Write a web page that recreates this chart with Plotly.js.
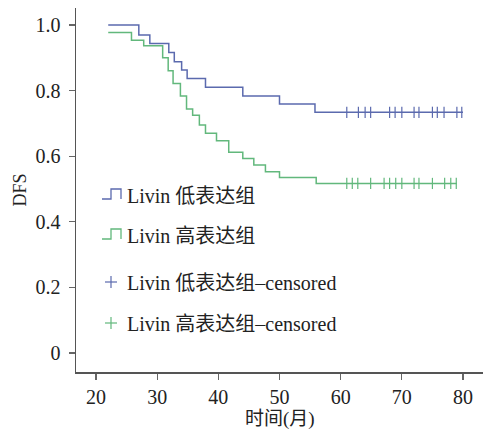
<!DOCTYPE html>
<html><head><meta charset="utf-8">
<script src="https://cdn.plot.ly/plotly-3.0.1.min.js"></script>
<style>html,body{margin:0;padding:0;background:#fff}#chart{width:483px;height:431px}</style>
</head><body><div id="chart"></div>
<script>
// Kaplan-Meier step data (time in months, DFS)
const lowTimes  = [22, 27, 28.8, 31.9, 32.8, 34.0, 34.9, 37.9, 44.0, 50.0, 55.8, 80];
const lowSurv   = [1.0, 0.97, 0.944, 0.916, 0.888, 0.863, 0.837, 0.81, 0.784, 0.759, 0.734, 0.734];
const highTimes = [22, 25.8, 27.8, 30.9, 31.8, 32.6, 33.8, 34.8, 35.8, 36.9, 37.9, 39.7, 41.7, 44.0, 45.8, 47.7, 50.0, 56.0, 79];
const highSurv  = [0.977, 0.954, 0.937, 0.90, 0.861, 0.822, 0.784, 0.744, 0.725, 0.695, 0.670, 0.647, 0.612, 0.593, 0.573, 0.553, 0.535, 0.517, 0.517];
const lowCensTimes  = [61.0, 62.9, 64.0, 64.9, 68.0, 68.9, 70.0, 72.0, 72.8, 75.0, 75.8, 76.9, 79.0, 79.8];
const lowCensSurv   = [0.734, 0.734, 0.734, 0.734, 0.734, 0.734, 0.734, 0.734, 0.734, 0.734, 0.734, 0.734, 0.734, 0.734];
const highCensTimes = [61.0, 61.9, 62.8, 64.9, 67.1, 68.0, 69.0, 70.0, 72.0, 72.8, 75.0, 77.0, 78.0, 78.9];
const highCensSurv  = [0.517, 0.517, 0.517, 0.517, 0.517, 0.517, 0.517, 0.517, 0.517, 0.517, 0.517, 0.517, 0.517, 0.517];
const seriesNames = ["Livin 低表达组", "Livin 高表达组", "Livin 低表达组–censored", "Livin 高表达组–censored"];
const xTitle = '时间(月)';
const xTicks = [20, 30, 40, 50, 60, 70, 80];
const yTicks = [0, 0.2, 0.4, 0.6, 0.8, 1.0];
const yTickText = ["0", "0.2", "0.4", "0.6", "0.8", "1.0"];

const BLUE = '#5b6aae', GREEN = '#62b87c';
const FONT = 'Liberation Serif, "Noto Sans CJK SC", serif';

const traces = [
  {x: lowTimes, y: lowSurv, mode: 'lines', line: {shape: 'hv', color: BLUE, width: 1.5}, name: seriesNames[0], showlegend: false},
  {x: highTimes, y: highSurv, mode: 'lines', line: {shape: 'hv', color: GREEN, width: 1.5}, name: seriesNames[1], showlegend: false},
  {x: lowCensTimes, y: lowCensSurv, mode: 'markers', marker: {symbol: 'line-ns', size: 8, line: {color: BLUE, width: 1.2}}, name: seriesNames[2], showlegend: false},
  {x: highCensTimes, y: highCensSurv, mode: 'markers', marker: {symbol: 'line-ns', size: 8, line: {color: GREEN, width: 1.2}}, name: seriesNames[3], showlegend: false}
];

// pixel -> paper helpers for the hand-drawn legend
const L = 76, T = 8, W = 407, H = 364;
const px = x => (x - L) / W;
const py = y => (T + H - y) / H;

const legendRows = [196, 236, 283, 324];
const legendColors = [BLUE, GREEN, BLUE, GREEN];
const annotations = seriesNames.map((n, i) => ({
  xref: 'paper', yref: 'paper', x: px(125), y: py(legendRows[i]), xanchor: 'left', yanchor: 'middle',
  text: n, showarrow: false, font: {family: FONT, size: 20, color: '#222'}
}));
annotations.push({xref: 'paper', yref: 'paper', x: px(280), y: py(419), xanchor: 'center', yanchor: 'middle',
  text: xTitle, showarrow: false, font: {family: FONT, size: 19, color: '#222'}});

const shapes = [];
function stepIcon(cy, color) {
  const b = cy + 3, t = cy - 7;
  shapes.push({type: 'path', xref: 'paper', yref: 'paper',
    path: `M ${px(102)} ${py(b)} L ${px(111)} ${py(b)} L ${px(111)} ${py(t)} L ${px(121)} ${py(t)} L ${px(121)} ${py(b)}`,
    line: {color: color, width: 1.3}});
}
function plusIcon(cx, cy, color) {
  shapes.push({type: 'line', xref: 'paper', yref: 'paper', x0: px(cx - 6), x1: px(cx + 6), y0: py(cy), y1: py(cy), line: {color: color, width: 1.2}});
  shapes.push({type: 'line', xref: 'paper', yref: 'paper', x0: px(cx), x1: px(cx), y0: py(cy - 6), y1: py(cy + 6), line: {color: color, width: 1.2}});
}
stepIcon(legendRows[0], legendColors[0]);
stepIcon(legendRows[1], legendColors[1]);
plusIcon(111, legendRows[2] - 1, legendColors[2]);
plusIcon(111, legendRows[3] - 1, legendColors[3]);

const layout = {
  width: 483, height: 431,
  margin: {l: L, r: 0, t: T, b: 431 - T - H, pad: 0},
  paper_bgcolor: '#fff', plot_bgcolor: '#fff',
  font: {family: FONT, size: 20, color: '#222'},
  xaxis: {range: [16.73, 83.27], tickvals: xTicks, ticks: 'outside', ticklen: 6, tickcolor: '#666', tickwidth: 1.2,
    showline: true, linecolor: '#555', linewidth: 1.5, showgrid: false, zeroline: false,
    tickfont: {family: FONT, size: 20, color: '#222'}},
  yaxis: {range: [-0.058, 1.052], tickvals: yTicks, ticktext: yTickText, ticks: 'outside', ticklen: 6, tickcolor: '#666', tickwidth: 1.2,
    ticklabelstandoff: 4,
    showline: true, linecolor: '#555', linewidth: 1.5, showgrid: false, zeroline: false,
    title: {text: 'DFS', font: {family: FONT, size: 18, color: '#222'}, standoff: 4},
    tickfont: {family: FONT, size: 20, color: '#222'}},
  annotations: annotations,
  shapes: shapes,
  showlegend: false
};
Plotly.newPlot('chart', traces, layout, {displayModeBar: false, staticPlot: true});
</script></body></html>
